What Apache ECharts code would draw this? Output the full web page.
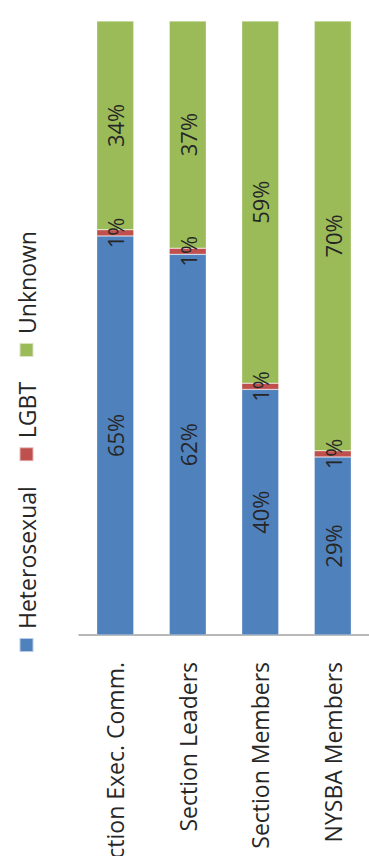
<!DOCTYPE html>
<html>
<head>
<meta charset="utf-8">
<script src="https://cdn.jsdelivr.net/npm/echarts@6/dist/echarts.min.js"></script>
<style>
html,body{margin:0;padding:0;width:369px;height:856px;overflow:hidden;background:#fff;}
#chart{position:absolute;left:0;top:0;width:856px;height:369px;transform-origin:0 0;transform:translateY(856px) rotate(-90deg);}
</style>
</head>
<body>
<div id="chart"></div>
<script>
const categories = ['Section Exec. Comm.', 'Section Leaders', 'Section Members', 'NYSBA Members'];
const heterosexual = [65, 62, 40, 29];
const lgbt = [1, 1, 1, 1];
const unknown = [34, 37, 59, 70];
const seriesNames = ['Heterosexual', 'LGBT', 'Unknown'];
const colors = ['#4F81BD', '#C0504D', '#9BBB59'];

const chart = echarts.init(document.getElementById('chart'), null, {renderer: 'svg'});
const font = '"Open Sans", sans-serif';
const labelStyle = {
  show: true,
  position: 'inside',
  formatter: '{c}%',
  color: '#262626',
  fontFamily: font,
  fontSize: 22
};
function mk(name, data, color) {
  return {
    name: name,
    type: 'bar',
    stack: 'total',
    barWidth: 37,
    data: data,
    itemStyle: {color: color, borderColor: 'rgba(255,255,255,0.6)', borderWidth: 0.5},
    label: labelStyle,
    emphasis: {disabled: true}
  };
}
chart.setOption({
  animation: false,
  backgroundColor: '#fff',
  color: colors,
  legend: {
    left: 203,
    top: 10,
    padding: [5, 0, 5, 0],
    itemWidth: 14,
    itemHeight: 14,
    itemGap: 24,
    icon: 'rect',
    textStyle: {fontFamily: font, fontSize: 23, color: '#262626', padding: [0, 0, 0, 4]},
    data: seriesNames
  },
  grid: {left: 221, right: 21, top: 79, bottom: 0, containLabel: false, outerBoundsMode: 'none'},
  xAxis: {
    type: 'value',
    min: 0,
    max: 100,
    show: false,
    splitLine: {show: false}
  },
  yAxis: {
    type: 'category',
    inverse: true,
    data: categories,
    axisLine: {show: true, lineStyle: {color: '#A0A0A0', width: 1.5}},
    axisTick: {show: false},
    axisLabel: {fontFamily: font, fontSize: 23, color: '#262626', margin: 27}
  },
  series: [
    mk(seriesNames[0], heterosexual, colors[0]),
    mk(seriesNames[1], lgbt, colors[1]),
    mk(seriesNames[2], unknown, colors[2])
  ]
});
</script>
</body>
</html>
